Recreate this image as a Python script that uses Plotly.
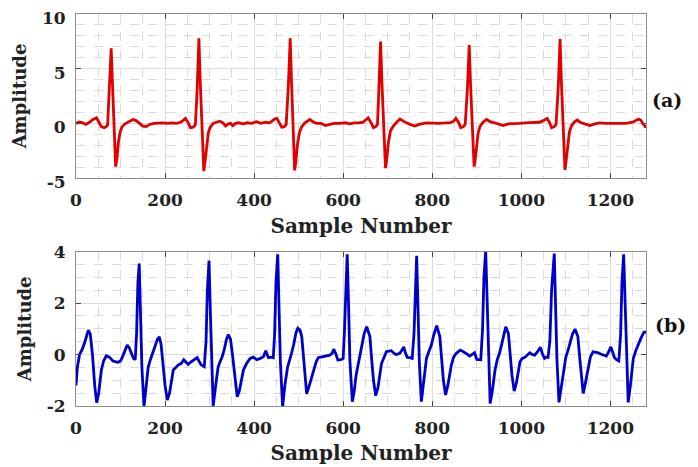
import plotly.graph_objects as go

# ECG (a): sample number / amplitude
ecg_a_x = [
    0, 8, 15, 22, 30, 38, 46, 52, 57, 63, 68, 71, 75, 79, 82, 85, 89, 92, 95, 99, 103, 110, 118, 128, 135, 142,
    150, 158, 165, 175, 185, 195, 205, 215, 225, 235,
    240, 246, 252, 257, 263, 268, 272, 276, 279, 283, 287, 290, 293, 297, 301, 308, 315, 323, 330, 336, 342,
    347, 352, 358, 365, 375, 385, 395, 405, 415, 425, 435,
    440, 446, 451, 457, 462, 468, 472, 477, 481, 484, 487, 491, 494, 497, 502, 507, 514, 520, 525, 532, 540,
    550, 560, 570, 580, 593, 605, 615, 625, 635, 645,
    650, 656, 662, 668, 673, 677, 680, 684, 687, 691, 695, 698, 701, 706, 712.6, 720, 727.6, 735, 742, 750,
    761, 770, 787, 800, 815, 830, 840, 848,
    853, 859, 864, 870, 874, 879, 883, 886, 890, 894, 897, 900, 903, 907, 914, 922, 930, 940, 950, 959, 970,
    981, 995, 1010, 1025, 1040, 1047,
    1053, 1058, 1063, 1068, 1074, 1078, 1083, 1087, 1090, 1094, 1098, 1101, 1104, 1108, 1113, 1120, 1126,
    1132, 1139, 1146, 1154, 1165, 1176, 1190, 1205, 1220, 1235, 1250, 1258, 1263, 1268, 1274, 1278, 1280,
]
ecg_a_y = [
    0.0, 0.12, 0.05, -0.1, 0.1, 0.35, 0.5, 0.1, -0.3, -0.4, -0.3, -0.15, 3.0, 6.86, 3.5, -0.5, -3.96, -3.2,
    -1.8, -0.8, -0.35, -0.05, 0.1, 0.35, 0.25, 0.0, -0.25, -0.3, -0.1, 0.0, 0.05, 0.05, 0.0, 0.05, 0.0, 0.1,
    0.25, 0.45, 0.05, -0.4, -0.35, -0.15, 3.0, 7.78, 3.8, -0.8, -4.36, -3.4, -2.0, -0.9, -0.4, 0.0, 0.1, 0.2,
    0.05, -0.25, -0.05, 0.0, -0.2, 0.0, 0.05, -0.05, 0.05, 0.0, 0.15, 0.0, 0.1, 0.05,
    0.2, 0.4, 0.45, 0.0, -0.35, -0.3, -0.1, 3.5, 7.78, 3.8, -0.5, -4.3, -3.4, -2.0, -0.8, -0.3, 0.05, 0.25,
    0.35, 0.15, 0.0, 0.0, -0.2, -0.1, 0.0, 0.0, 0.05, -0.05, 0.05, 0.05, 0.1,
    0.3, 0.5, 0.1, -0.4, -0.3, -0.1, 3.0, 7.47, 3.7, -0.6, -4.1, -3.2, -1.9, -0.7, -0.25, 0.1, 0.4, 0.2, 0.05,
    -0.1, -0.25, -0.1, 0.05, 0.0, 0.0, 0.05, 0.05, 0.2,
    0.45, 0.1, -0.4, -0.3, -0.1, 3.2, 7.16, 3.5, -0.6, -3.96, -3.1, -1.8, -0.9, -0.3, 0.1, 0.35, 0.15, 0.05,
    -0.1, -0.2, -0.05, 0.0, 0.0, 0.05, 0.05, 0.1, 0.2,
    0.35, 0.45, 0.1, -0.4, -0.3, -0.1, 3.3, 7.71, 3.8, -0.6, -4.27, -3.3, -1.9, -0.8, -0.2, 0.15, 0.3, 0.1,
    0.0, -0.1, -0.2, -0.05, 0.05, 0.0, 0.0, 0.05, 0.0, 0.1, 0.3, 0.4, 0.3, -0.1, -0.3, -0.3,
]

# ECG (b)
ecg_b_x = [
    0, 3, 8, 14, 20, 27.7, 32, 37, 42, 46.4, 51, 57, 62, 68, 75, 83, 94, 100, 105, 110, 115, 120, 124, 129,
    133, 136, 139, 142, 145, 148, 152.7, 157, 162, 167, 172, 178, 183, 187, 191, 195, 200, 205, 210, 218.5,
    230, 236, 242, 247, 252, 257, 262, 267, 272, 276, 281, 288, 292, 295, 298.7, 302, 305, 308, 313, 319,
    323, 328, 333, 338, 342, 347, 352, 357, 362, 367, 376, 383, 391, 398, 406, 414, 421, 426, 432, 438, 443,
    446, 449, 453, 456, 459, 464, 469, 475, 479, 484, 489, 494, 498, 503, 507, 511, 515, 518, 524, 533, 539,
    544, 551, 559, 565, 570, 575, 579, 584, 588, 595, 600, 603, 606, 609, 612, 615, 620.5, 625, 629, 634,
    641, 647, 652.7, 660, 664, 668, 673, 678, 686, 692, 697, 703, 708, 713, 718, 722, 727, 731, 736, 740,
    744, 750, 755, 759, 762, 765, 768, 771, 775.5, 780, 787, 792, 798, 804, 810, 817, 821, 825, 830, 835,
    843, 848, 854, 863, 869, 875, 880, 884, 890, 895, 900, 905, 909, 913, 916, 920, 923, 926, 930, 935, 941,
    946, 951, 956, 961, 965, 971, 975, 979, 984, 989, 997, 1002, 1008, 1014, 1019, 1025, 1030, 1036, 1043,
    1048, 1052, 1056, 1060, 1064, 1068, 1074, 1077, 1080, 1084.6, 1089, 1096, 1100, 1105, 1110, 1115,
    1120.6, 1127, 1131, 1135, 1139, 1144, 1150, 1155, 1161, 1167, 1173, 1178, 1184, 1191, 1196, 1201, 1205,
    1209, 1214, 1219, 1223, 1226, 1229.8, 1233, 1236, 1240, 1245, 1251.5, 1257, 1263, 1269, 1275, 1280,
]
ecg_b_y = [
    -1.2, -0.5, 0.0, 0.2, 0.5, 0.95, 0.8, 0.0, -1.2, -1.87, -1.5, -0.6, -0.25, -0.05, -0.1, -0.25, -0.3,
    -0.25, -0.06, 0.15, 0.37, 0.25, 0.05, -0.15, -0.2, 0.8, 2.8, 3.54, 1.5, -0.5, -2.03, -1.4, -0.5, -0.2,
    0.05, 0.3, 0.6, 0.69, 0.4, -0.3, -1.2, -1.77, -1.5, -0.6, -0.4, -0.35, -0.2, -0.3, -0.38, -0.3, -0.25,
    -0.2, -0.12, -0.25, -0.4, -0.47, 0.5, 2.5, 3.65, 1.5, -0.5, -2.0, -1.3, -0.5, -0.3, -0.1, 0.2, 0.6, 0.78,
    0.6, -0.1, -1.0, -1.64, -1.4, -0.6, -0.35, -0.15, -0.1, -0.2, -0.15, -0.08, 0.15, -0.12, -0.1, -0.12,
    0.8, 2.8, 3.9, 1.8, -0.3, -2.03, -1.2, -0.5, -0.2, 0.05, 0.4, 0.85, 1.02, 0.95, 0.7, -0.2, -1.1, -1.53,
    -1.2, -0.6, -0.3, -0.12, -0.1, -0.06, -0.05, -0.02, 0.05, 0.21, 0.0, -0.21, -0.2, -0.15, 1.0, 3.0, 3.9,
    2.0, -0.2, -1.83, -1.4, -0.8, -0.35, 0.37, 0.8, 1.08, 0.7, -0.2, -1.0, -1.6, -1.3, -0.35, -0.05, 0.11,
    0.13, 0.15, 0.07, 0.0, 0.02, 0.05, 0.15, 0.3, 0.05, -0.11, -0.12, -0.15, 0.8, 2.8, 3.84, 1.8, -0.3,
    -1.83, -1.2, -0.15, 0.1, 0.37, 0.8, 1.12, 0.7, -0.2, -1.0, -1.57, -1.2, -0.4, -0.1, 0.05, 0.17, 0.12,
    0.07, 0.0, -0.06, 0.0, 0.07, -0.19, -0.2, -0.2, 1.0, 3.0, 4.03, 2.0, -0.2, -1.9, -1.4, -0.6, -0.2, 0.05,
    0.4, 0.85, 1.08, 0.82, 0.0, -0.8, -1.42, -1.1, -0.28, -0.15, -0.11, -0.02, 0.07, 0.0, -0.02, 0.1, 0.28,
    0.0, -0.15, -0.1, -0.11, 0.5, 2.5, 3.93, 2.0, -0.2, -1.86, -1.3, -0.54, -0.1, 0.17, 0.45, 0.8, 0.99, 0.7,
    -0.1, -0.9, -1.51, -1.1, -0.47, -0.1, 0.11, 0.1, 0.07, 0.02, -0.02, -0.06, 0.1, 0.3, 0.1, -0.11, -0.2,
    -0.25, 0.8, 2.8, 3.9, 2.0, -0.2, -1.86, -1.2, -0.15, 0.15, 0.43, 0.65, 0.86, 0.88,
]

x_ticks = [0, 200, 400, 600, 800, 1000, 1200]
a_ticks = [-5, 0, 5, 10]
b_ticks = [-2, 0, 2, 4]

FONT = "DejaVu Serif"
# the page body has an 8px margin, so the figure is 8px smaller than the window
W, H = 690, 459


def px_x(p):
    return (p - 8) / W


def px_y(p):
    return 1 - (p - 8) / H


fig = go.Figure()
fig.add_trace(go.Scatter(x=ecg_a_x, y=ecg_a_y, mode="lines",
                         line=dict(color="#e00000", width=2.8), xaxis="x", yaxis="y"))
fig.add_trace(go.Scatter(x=ecg_b_x, y=ecg_b_y, mode="lines",
                         line=dict(color="#0000c8", width=2.8), xaxis="x2", yaxis="y2"))


def axis_style(minor_step, standoff, shift=0):
    return dict(
        automargin=False,
        showline=True, linecolor="#8c8c8c", linewidth=1, mirror="ticks",
        ticks="inside", ticklen=5, tickcolor="#444444",
        showgrid=True, gridcolor="#dcdcdc", gridwidth=1, zeroline=False,
        minor=dict(dtick=minor_step, showgrid=True, gridcolor="#dadada", griddash="dash", gridwidth=1),
        tickfont=dict(family=FONT, size=17, color="#222222", weight="bold"),
        ticklabelstandoff=standoff, ticklabelshift=shift, ticklabeloverflow="allow",
    )


title_font = dict(family=FONT, size=20, color="#222222", weight="bold")
ytitle_font = dict(family=FONT, size=18, color="#222222", weight="bold")
label_font = dict(family=FONT, size=19, color="#111111", weight="bold")
xdom = [px_x(76), px_x(646)]

fig.update_layout(
    width=W, height=H,
    margin=dict(l=0, r=0, t=0, b=0),
    paper_bgcolor="white", plot_bgcolor="white",
    showlegend=False,
    xaxis=dict(domain=xdom, anchor="y", range=[0, 1280], tickvals=x_ticks,
               title=dict(text="Sample Number", font=title_font, standoff=9), **axis_style(50, 7)),
    yaxis=dict(domain=[px_y(178), px_y(14)], anchor="x", range=[-5, 10],
               tickvals=a_ticks, ticktext=[str(v) for v in a_ticks],
               title=dict(text="Amplitude", font=ytitle_font, standoff=10), **axis_style(1, 6, 4)),
    xaxis2=dict(domain=xdom, anchor="y2", range=[0, 1280], tickvals=x_ticks,
                title=dict(text="Sample Number", font=title_font, standoff=8), **axis_style(50, 7)),
    yaxis2=dict(domain=[px_y(406), px_y(251.7)], anchor="x2", range=[-2, 4],
                tickvals=b_ticks, ticktext=[str(v) for v in b_ticks],
                title=dict(text="Amplitude", font=ytitle_font, standoff=10), **axis_style(0.5, 6)),
    annotations=[
        dict(text="(a)", x=px_x(667), y=px_y(100), xref="paper", yref="paper", showarrow=False,
             xanchor="center", yanchor="middle", font=label_font),
        dict(text="(b)", x=px_x(670), y=px_y(325), xref="paper", yref="paper", showarrow=False,
             xanchor="center", yanchor="middle", font=label_font),
    ],
)

fig.write_html("out.html")
